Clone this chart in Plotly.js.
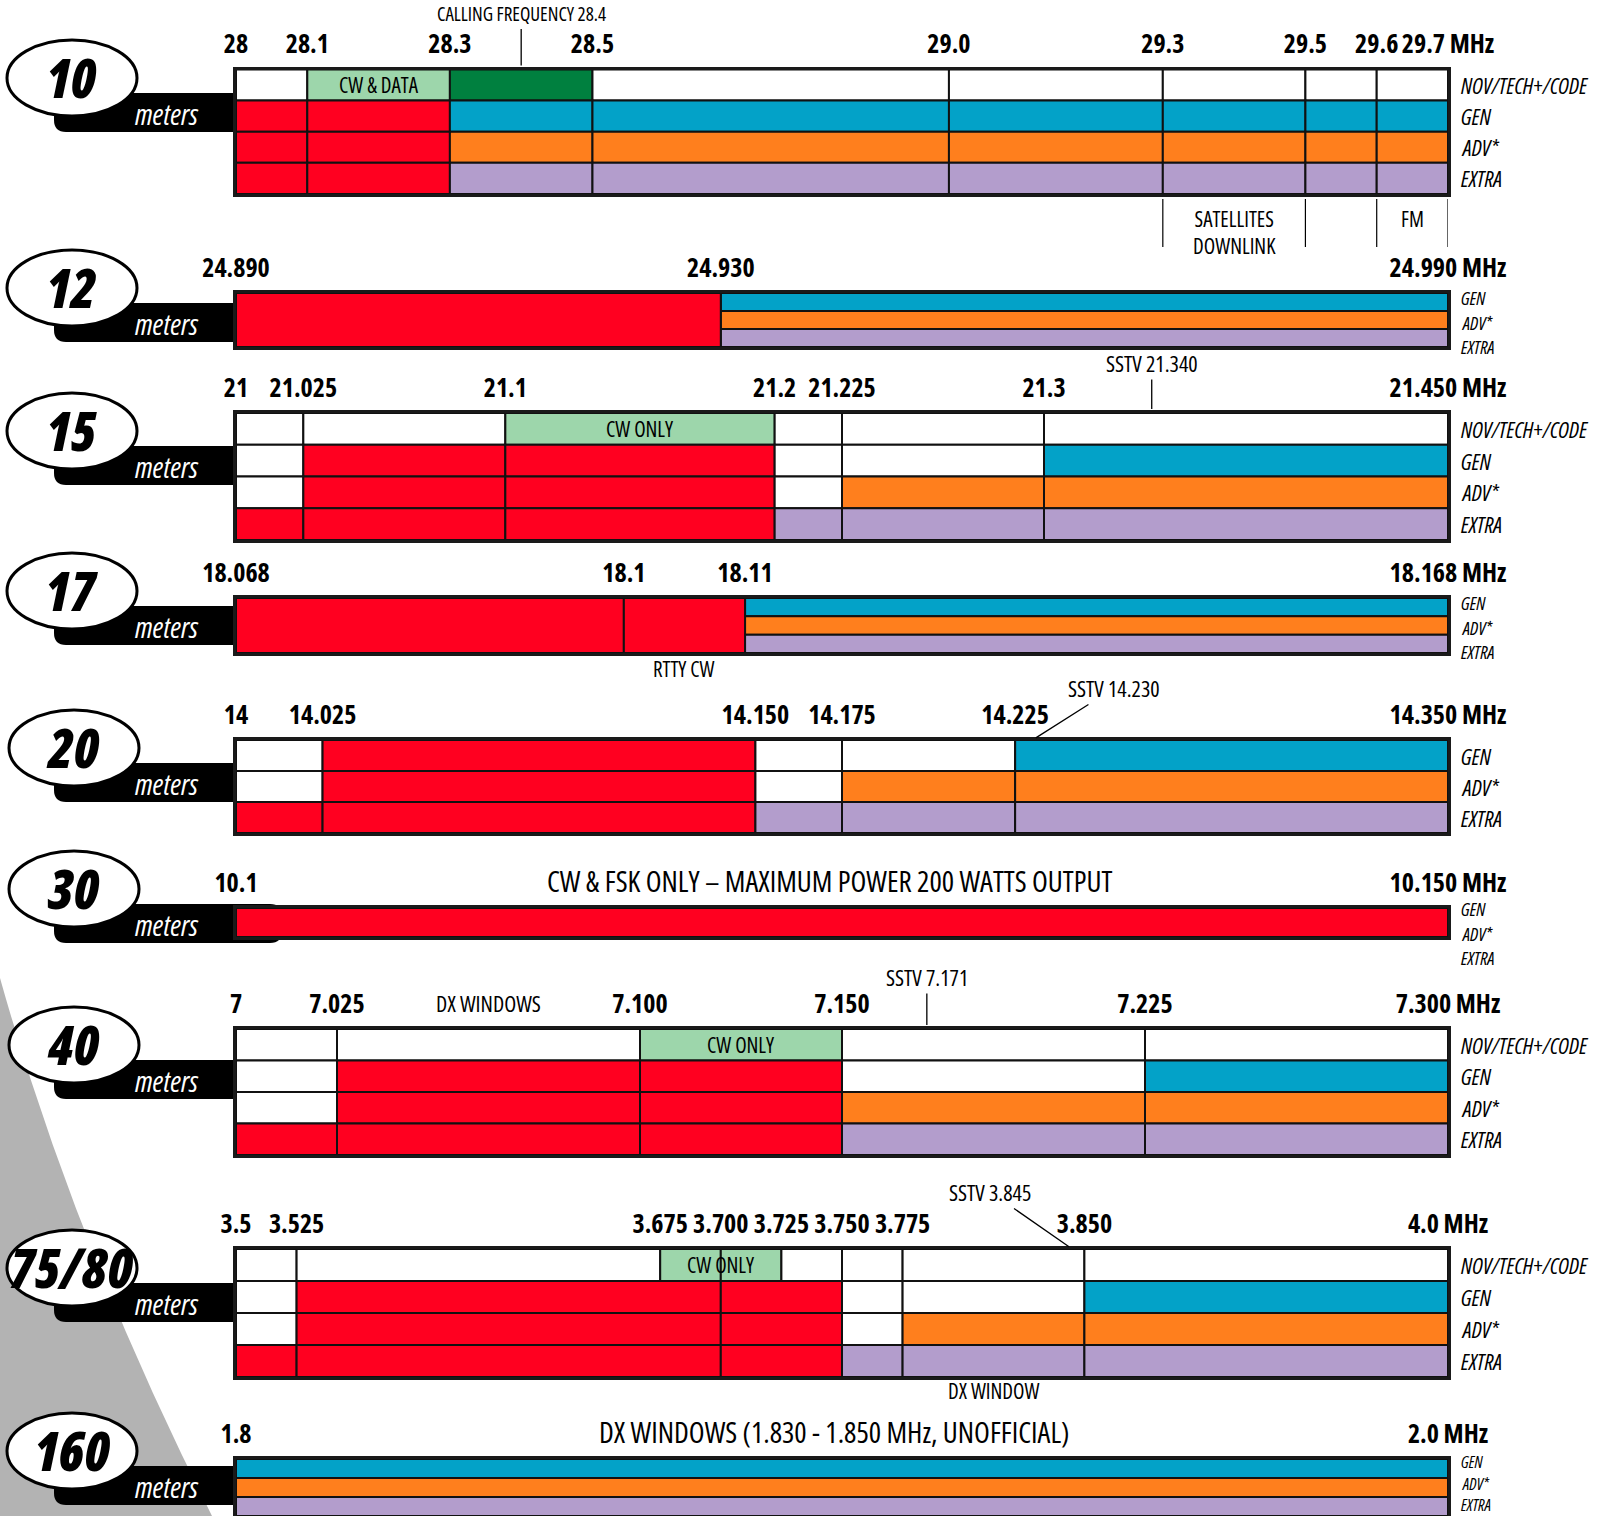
<!DOCTYPE html>
<html><head><meta charset="utf-8">
<script src="https://cdn.plot.ly/plotly-3.0.1.min.js"></script>
<style>
html,body{margin:0;padding:0;background:#fff;}
svg text{font-stretch:75% !important;}
</style>
</head><body>
<div id="chart" style="width:1606px;height:1516px;"></div>
<script>
// ---------------- DATA ----------------
const CLASSES4 = ['NOV/TECH+/CODE', 'GEN', 'ADV*', 'EXTRA'];
const CLASSES3 = ['GEN', 'ADV*', 'EXTRA'];
// privilege codes: N none, C CW/data, T novice CW, P novice phone, G general, A advanced, E extra

// 10 meters
const b10_ticks = [28, 28.1, 28.3, 28.5, 29.0, 29.3, 29.5, 29.6, 29.7];
const b10_tickText = ['28', '28.1', '28.3', '28.5', '29.0', '29.3', '29.5', '29.6', '29.7'];
const b10_nov = [[28,28.1,'N'],[28.1,28.3,'T'],[28.3,28.5,'P'],[28.5,29.0,'N'],[29.0,29.3,'N'],[29.3,29.5,'N'],[29.5,29.6,'N'],[29.6,29.7,'N']];
const b10_gen = [[28,28.1,'C'],[28.1,28.3,'C'],[28.3,28.5,'G'],[28.5,29.0,'G'],[29.0,29.3,'G'],[29.3,29.5,'G'],[29.5,29.6,'G'],[29.6,29.7,'G']];
const b10_adv = [[28,28.1,'C'],[28.1,28.3,'C'],[28.3,28.5,'A'],[28.5,29.0,'A'],[29.0,29.3,'A'],[29.3,29.5,'A'],[29.5,29.6,'A'],[29.6,29.7,'A']];
const b10_ext = [[28,28.1,'C'],[28.1,28.3,'C'],[28.3,28.5,'E'],[28.5,29.0,'E'],[29.0,29.3,'E'],[29.3,29.5,'E'],[29.5,29.6,'E'],[29.6,29.7,'E']];
const b10_cellText = [[28.2, 0, 'CW & DATA']];
const b10_markers = [[28.4, 'CALLING FREQUENCY 28.4']];
const b10_belowDividers = [29.3, 29.5, 29.6, 29.7];
const b10_belowText = [[29.4, 'SATELLITES<br>DOWNLINK'], [29.65, 'FM']];

// 12 meters
const b12_ticks = [24.890, 24.930, 24.990];
const b12_tickText = ['24.890', '24.930', '24.990'];
const b12_all = [[24.890, 24.930, 'C']];
const b12_gen = [[24.930, 24.990, 'G']];
const b12_adv = [[24.930, 24.990, 'A']];
const b12_ext = [[24.930, 24.990, 'E']];

// 15 meters
const b15_ticks = [21, 21.025, 21.1, 21.2, 21.225, 21.3, 21.45];
const b15_tickText = ['21', '21.025', '21.1', '21.2', '21.225', '21.3', '21.450'];
const b15_nov = [[21,21.025,'N'],[21.025,21.1,'N'],[21.1,21.2,'T'],[21.2,21.225,'N'],[21.225,21.3,'N'],[21.3,21.45,'N']];
const b15_gen = [[21,21.025,'N'],[21.025,21.1,'C'],[21.1,21.2,'C'],[21.2,21.225,'N'],[21.225,21.3,'N'],[21.3,21.45,'G']];
const b15_adv = [[21,21.025,'N'],[21.025,21.1,'C'],[21.1,21.2,'C'],[21.2,21.225,'N'],[21.225,21.3,'A'],[21.3,21.45,'A']];
const b15_ext = [[21,21.025,'C'],[21.025,21.1,'C'],[21.1,21.2,'C'],[21.2,21.225,'E'],[21.225,21.3,'E'],[21.3,21.45,'E']];
const b15_cellText = [[21.15, 0, 'CW ONLY']];
const b15_markers = [[21.340, 'SSTV 21.340']];

// 17 meters
const b17_ticks = [18.068, 18.1, 18.11, 18.168];
const b17_tickText = ['18.068', '18.1', '18.11', '18.168'];
const b17_all = [[18.068, 18.1, 'C'], [18.1, 18.11, 'C']];
const b17_gen = [[18.11, 18.168, 'G']];
const b17_adv = [[18.11, 18.168, 'A']];
const b17_ext = [[18.11, 18.168, 'E']];
const b17_belowText = [[18.105, 'RTTY CW']];

// 20 meters
const b20_ticks = [14, 14.025, 14.150, 14.175, 14.225, 14.350];
const b20_tickText = ['14', '14.025', '14.150', '14.175', '14.225', '14.350'];
const b20_gen = [[14,14.025,'N'],[14.025,14.15,'C'],[14.15,14.175,'N'],[14.175,14.225,'N'],[14.225,14.35,'G']];
const b20_adv = [[14,14.025,'N'],[14.025,14.15,'C'],[14.15,14.175,'N'],[14.175,14.225,'A'],[14.225,14.35,'A']];
const b20_ext = [[14,14.025,'C'],[14.025,14.15,'C'],[14.15,14.175,'E'],[14.175,14.225,'E'],[14.225,14.35,'E']];
const b20_markers = [[14.230, 'SSTV 14.230']];

// 30 meters
const b30_ticks = [10.1, 10.150];
const b30_tickText = ['10.1', '10.150'];
const b30_all = [[10.1, 10.150, 'C']];
const b30_title = 'CW & FSK ONLY \u2013 MAXIMUM POWER 200 WATTS OUTPUT';

// 40 meters
const b40_ticks = [7, 7.025, 7.100, 7.150, 7.225, 7.300];
const b40_tickText = ['7', '7.025', '7.100', '7.150', '7.225', '7.300'];
const b40_nov = [[7,7.025,'N'],[7.025,7.1,'N'],[7.1,7.15,'T'],[7.15,7.225,'N'],[7.225,7.3,'N']];
const b40_gen = [[7,7.025,'N'],[7.025,7.1,'C'],[7.1,7.15,'C'],[7.15,7.225,'N'],[7.225,7.3,'G']];
const b40_adv = [[7,7.025,'N'],[7.025,7.1,'C'],[7.1,7.15,'C'],[7.15,7.225,'A'],[7.225,7.3,'A']];
const b40_ext = [[7,7.025,'C'],[7.025,7.1,'C'],[7.1,7.15,'C'],[7.15,7.225,'E'],[7.225,7.3,'E']];
const b40_cellText = [[7.125, 0, 'CW ONLY']];
const b40_markers = [[7.171, 'SSTV 7.171']];
const b40_aboveText = [[7.0625, 'DX WINDOWS']];

// 75/80 meters
const b80_ticks = [3.5, 3.525, 3.675, 3.700, 3.725, 3.750, 3.775, 3.850, 4.0];
const b80_tickText = ['3.5', '3.525', '3.675', '3.700', '3.725', '3.750', '3.775', '3.850', '4.0'];
const b80_nov = [[3.5,3.525,'N'],[3.525,3.675,'N'],[3.675,3.7,'T'],[3.7,3.725,'T'],[3.725,3.75,'N'],[3.75,3.775,'N'],[3.775,3.85,'N'],[3.85,4.0,'N']];
const b80_gen = [[3.5,3.525,'N'],[3.525,3.7,'C'],[3.7,3.75,'C'],[3.75,3.775,'N'],[3.775,3.85,'N'],[3.85,4.0,'G']];
const b80_adv = [[3.5,3.525,'N'],[3.525,3.7,'C'],[3.7,3.75,'C'],[3.75,3.775,'N'],[3.775,3.85,'A'],[3.85,4.0,'A']];
const b80_ext = [[3.5,3.525,'C'],[3.525,3.7,'C'],[3.7,3.75,'C'],[3.75,3.775,'E'],[3.775,3.85,'E'],[3.85,4.0,'E']];
const b80_cellText = [[3.7, 0, 'CW ONLY']];
const b80_markers = [[3.845, 'SSTV 3.845']];
const b80_belowText = [[3.8125, 'DX WINDOW']];

// 160 meters
const b160_ticks = [1.8, 2.0];
const b160_tickText = ['1.8', '2.0'];
const b160_gen = [[1.8, 2.0, 'G']];
const b160_adv = [[1.8, 2.0, 'A']];
const b160_ext = [[1.8, 2.0, 'E']];
const b160_title = 'DX WINDOWS (1.830 - 1.850 MHz, UNOFFICIAL)';

// ---------------- STYLE / LAYOUT ----------------
const COLORS = {N:'#ffffff', C:'#ff0020', T:'#9dd6ab', P:'#00803f', G:'#03a2c8', A:'#ff7f1d', E:'#b39dcc'};
const W = 1606, H = 1516;
const xp = px => px / W;
const yp = px => 1 - px / H;
const FONT = '"Open Sans", "Roboto Condensed", sans-serif';
const X0 = 236, X1 = 1448;
const TICK_SIZE = 26;

const bands = [
  {name:'10', ticks:b10_ticks, tickText:b10_tickText, classes:CLASSES4, rows:[b10_nov,b10_gen,b10_adv,b10_ext], spans:[],
   cellText:b10_cellText, markers:b10_markers, markerOff:[0,-55], markerSize:19, belowText:b10_belowText, belowDividers:b10_belowDividers,
   belowY:203, belowAnchor:'top', top:69.5, bottom:194, cy:78, cx:72},
  {name:'12', ticks:b12_ticks, tickText:b12_tickText, classes:CLASSES3, rows:[b12_gen,b12_adv,b12_ext], spans:b12_all,
   labelOff:[5,29.5,54], top:293, bottom:347, cy:288, cx:72},
  {name:'15', ticks:b15_ticks, tickText:b15_tickText, classes:CLASSES4, rows:[b15_nov,b15_gen,b15_adv,b15_ext], spans:[],
   cellText:b15_cellText, markers:b15_markers, markerOff:[0,-50], top:413, bottom:540, cy:431, cx:72},
  {name:'17', ticks:b17_ticks, tickText:b17_tickText, classes:CLASSES3, rows:[b17_gen,b17_adv,b17_ext], spans:b17_all,
   labelOff:[5,29.5,54], belowText:b17_belowText, belowY:669, belowAnchor:'middle', top:598, bottom:653, cy:591, cx:72},
  {name:'20', ticks:b20_ticks, tickText:b20_tickText, classes:CLASSES3, rows:[b20_gen,b20_adv,b20_ext], spans:[],
   markers:b20_markers, markerOff:[82,-52], top:740, bottom:833, cy:748, cx:74},
  {name:'30', ticks:b30_ticks, tickText:b30_tickText, classes:CLASSES3, rows:[], spans:b30_all,
   labelOff:[1,25.5,50], title:b30_title, titleX:830, pillEnd:282, top:908, bottom:937, cy:889, cx:74},
  {name:'40', ticks:b40_ticks, tickText:b40_tickText, classes:CLASSES4, rows:[b40_nov,b40_gen,b40_adv,b40_ext], spans:[],
   cellText:b40_cellText, markers:b40_markers, markerOff:[0,-52], aboveText:b40_aboveText, top:1029, bottom:1155, cy:1045, cx:74},
  {name:'75/80', ticks:b80_ticks, tickText:b80_tickText, classes:CLASSES4, rows:[b80_nov,b80_gen,b80_adv,b80_ext], spans:[],
   cellText:b80_cellText, markers:b80_markers, markerOff:[-82,-57], belowText:b80_belowText, belowY:1391, belowAnchor:'middle',
   top:1249, bottom:1377, cy:1268, cx:72},
  {name:'160', ticks:b160_ticks, tickText:b160_tickText, classes:CLASSES3, rows:[b160_gen,b160_adv,b160_ext], spans:[],
   labelOff:[3,24.5,46], labelSize:16, title:b160_title, titleX:834, top:1459, bottom:1516, cy:1451, cx:72}
];

const traces = [], annotations = [], shapes = [];
const layout = {
  width: W, height: H, margin: {l:0, r:0, t:0, b:0},
  paper_bgcolor: '#ffffff', plot_bgcolor: 'rgba(0,0,0,0)',
  barmode: 'overlay', showlegend: false, hovermode: false,
  font: {family: FONT, color: '#000'}
};

// grey swoosh background
shapes.push({type:'path', xref:'paper', yref:'paper', layer:'below',
  path:`M ${xp(0)} ${yp(978)} Q ${xp(75)} ${yp(1245)} ${xp(212)} ${yp(1516)} L ${xp(0)} ${yp(1516)} Z`,
  fillcolor:'#b3b3b3', line:{width:0}});

const txt = (size, extra) => Object.assign({family: FONT, size: size, color: '#000'}, extra || {});

bands.forEach((b, i) => {
  const n = i + 1;
  const xid = n === 1 ? 'x' : 'x' + n;
  const yid = n === 1 ? 'y' : 'y' + n;
  const xa = n === 1 ? 'xaxis' : 'xaxis' + n;
  const ya = n === 1 ? 'yaxis' : 'yaxis' + n;
  const nRows = Math.max(b.rows.length, 1);
  const last = b.ticks.length - 1;

  // cells
  const Y = [], X = [], B = [], Wd = [], Col = [];
  b.rows.forEach((row, r) => row.forEach(([s, e, c]) => {
    Y.push(r); B.push(s); X.push(e - s); Wd.push(1); Col.push(COLORS[c]);
  }));
  b.spans.forEach(([s, e, c]) => {
    Y.push((nRows - 1) / 2); B.push(s); X.push(e - s); Wd.push(nRows); Col.push(COLORS[c]);
  });
  traces.push({type:'bar', orientation:'h', xaxis:xid, yaxis:yid, y:Y, x:X, base:B, width:Wd,
    marker:{color:Col, line:{color:'#111', width:2}}, hoverinfo:'skip', showlegend:false});

  const tt = b.tickText.map((t, k) => k === last ? t + ' MHz' : t);
  layout[xa] = {domain:[xp(X0), xp(X1)], range:[b.ticks[0], b.ticks[last]], anchor:yid, side:'top',
    tickmode:'array', tickvals:b.ticks, ticktext:tt, tickangle:0, ticks:'', ticklabelstandoff:3,
    tickfont:txt(TICK_SIZE, {weight:'bold'}), showgrid:false, zeroline:false, showline:true, mirror:true,
    linecolor:'#1a1a1a', linewidth:3, fixedrange:true};
  layout[ya] = {domain:[yp(b.bottom), yp(b.top)], range:[nRows - 0.5, -0.5], anchor:xid,
    showticklabels:false, ticks:'', showgrid:false, zeroline:false, showline:true, mirror:true,
    linecolor:'#1a1a1a', linewidth:3, fixedrange:true};

  // class labels at right
  b.classes.forEach((c, r) => {
    if (b.labelOff) {
      annotations.push({text:c, xref:'paper', yref:'paper', x:xp(1460), y:yp(b.top + b.labelOff[r]),
        xanchor:'left', yanchor:'middle', showarrow:false, borderpad:0,
        font:txt(b.labelSize || 18, {style:'italic'})});
    } else {
      annotations.push({text:c, xref:'paper', yref:yid, x:xp(1460), y:r,
        xanchor:'left', yanchor:'middle', showarrow:false, borderpad:0, font:txt(22, {style:'italic'})});
    }
  });

  // text inside cells
  (b.cellText || []).forEach(([f, r, t]) => {
    annotations.push({text:t, xref:xid, yref:yid, x:f, y:r, showarrow:false, font:txt(21)});
  });

  // markers (calling frequency / SSTV)
  (b.markers || []).forEach(([f, t]) => {
    annotations.push({text:t, xref:xid, yref:yid + ' domain', x:f, y:1, showarrow:true, arrowhead:0,
      arrowwidth:1.3, arrowcolor:'#000', ax:b.markerOff[0], ay:b.markerOff[1], standoff:4,
      font:txt(b.markerSize || 22)});
  });

  // notes above / below
  (b.aboveText || []).forEach(([f, t]) => {
    annotations.push({text:t, xref:xid, yref:'paper', x:f, y:yp(b.top - 26), yanchor:'middle', showarrow:false, font:txt(22)});
  });
  (b.belowText || []).forEach(([f, t]) => {
    annotations.push({text:t, xref:xid, yref:'paper', x:f, y:yp(b.belowY), yanchor:b.belowAnchor, showarrow:false, font:txt(21)});
  });
  (b.belowDividers || []).forEach(f => {
    shapes.push({type:'line', xref:xid, yref:'paper', x0:f, x1:f, y0:yp(b.bottom + 5), y1:yp(b.bottom + 53),
      line:{color:'#000', width:1.2}});
  });

  if (b.title) {
    annotations.push({text:b.title, xref:'paper', yref:'paper', x:xp(b.titleX), y:yp(b.top - 28), yanchor:'middle',
      showarrow:false, font:txt(29)});
  }

  // band badge: black pill + white ellipse + texts
  const pt = b.cy + 15, pb = b.cy + 54, pl = 54, pr = b.pillEnd || X0, rr = 12;
  let path;
  if (b.pillEnd) {
    path = `M ${xp(pl + rr)} ${yp(pt)} L ${xp(pr - rr)} ${yp(pt)} Q ${xp(pr)} ${yp(pt)} ${xp(pr)} ${yp(pt + rr)} ` +
           `L ${xp(pr)} ${yp(pb - rr)} Q ${xp(pr)} ${yp(pb)} ${xp(pr - rr)} ${yp(pb)} L ${xp(pl + rr)} ${yp(pb)} ` +
           `Q ${xp(pl)} ${yp(pb)} ${xp(pl)} ${yp(pb - rr)} L ${xp(pl)} ${yp(pt + rr)} Q ${xp(pl)} ${yp(pt)} ${xp(pl + rr)} ${yp(pt)} Z`;
  } else {
    path = `M ${xp(pl + rr)} ${yp(pt)} L ${xp(pr)} ${yp(pt)} L ${xp(pr)} ${yp(pb)} L ${xp(pl + rr)} ${yp(pb)} ` +
           `Q ${xp(pl)} ${yp(pb)} ${xp(pl)} ${yp(pb - rr)} L ${xp(pl)} ${yp(pt + rr)} Q ${xp(pl)} ${yp(pt)} ${xp(pl + rr)} ${yp(pt)} Z`;
  }
  shapes.push({type:'path', xref:'paper', yref:'paper', layer:'below', path:path, fillcolor:'#000', line:{width:0}});
  shapes.push({type:'circle', xref:'paper', yref:'paper', layer:'below',
    x0:xp(b.cx - 65), x1:xp(b.cx + 65), y0:yp(b.cy + 38), y1:yp(b.cy - 38),
    fillcolor:'#ffffff', line:{color:'#000', width:3}});
  annotations.push({text:b.name, xref:'paper', yref:'paper', x:xp(b.cx - 1), y:yp(b.cy - 1),
    xanchor:'center', yanchor:'middle', showarrow:false, font:txt(54, {weight:800, style:'italic'})});
  annotations.push({text:'meters', xref:'paper', yref:'paper', x:xp(167), y:yp(b.cy + 35),
    xanchor:'center', yanchor:'middle', showarrow:false, font:txt(29, {style:'italic', color:'#ffffff'})});
});

layout.annotations = annotations;
layout.shapes = shapes;

Plotly.newPlot('chart', traces, layout, {displayModeBar:false, staticPlot:true});
</script>
</body></html>
